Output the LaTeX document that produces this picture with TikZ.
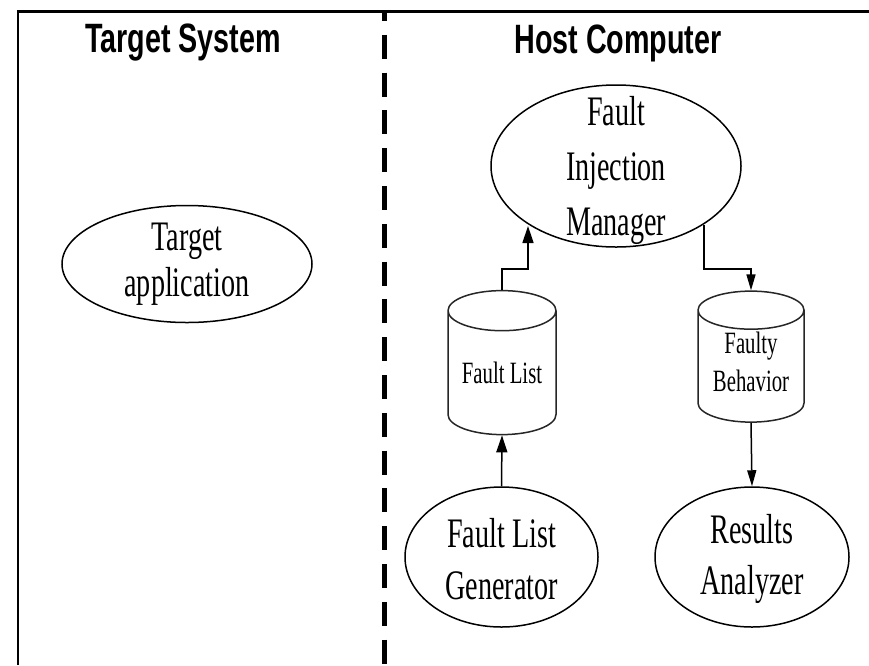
\documentclass[tikz,border=0pt]{standalone}
\usepackage{fontspec}
\usetikzlibrary{arrows.meta,shapes.geometric}
\newfontfamily\diagfont[FakeStretch=0.67]{Liberation Serif}
\newfontfamily\headfont[FakeStretch=0.7,BoldFont={Liberation Sans Bold}]{Liberation Sans}
\newcommand{\lift}[1]{\rule{0pt}{#1pt}}
\tikzset{
  proc/.style={draw=black,line width=1.5pt,ellipse,inner sep=-50pt,align=center,
    font=\diagfont\fontsize{42}{51.5}\selectfont},
  store/.style={draw=black!85,line width=1.5pt,cylinder,shape border rotate=90,inner sep=0pt,
    align=center,aspect=0.5,font=\diagfont\fontsize{31}{38}\selectfont},
  head/.style={font=\headfont\bfseries\fontsize{41}{41}\selectfont,inner sep=0pt},
  flow/.style={draw=black,line width=1.5pt,-{Triangle[length=17pt,width=11pt]}},
  thinflow/.style={draw=black,line width=1.5pt,-{Triangle[length=16pt,width=9pt]}}
}
\begin{document}
\begin{tikzpicture}[x=1pt,y=-1pt]
\useasboundingbox (0,0) rectangle (869,665);
\fill[white] (0,0) rectangle (869,665);
\draw[line width=3pt] (869,11) -- (18,11);
\draw[line width=2pt] (18,10) -- (18,665);
\draw[line width=5pt,dash pattern=on 24pt off 13.8pt,dash phase=14pt] (384,11) -- (384,665);
\node[head] (ts) at (183,43) {Target System};
\node[head] (hc) at (618,43) {Host Computer};
\node[proc,minimum width=250pt,minimum height=117pt] (ta) at (187,264) {\lift{26}Target\\[-6pt]application};
\node[proc,minimum width=250pt,minimum height=162pt] (fim) at (616,166) {\lift{39}Fault\\[3.5pt]Injection\\[3.5pt]Manager};
\node[store,minimum width=108pt,minimum height=144pt] (fl) at (502,373) {Fault List};
\node[store,minimum width=106pt,minimum height=131pt] (fb) at (751,366.5) {Faulty\\Behavior\rule[-9pt]{0pt}{1pt}};
\node[proc,minimum width=193pt,minimum height=140pt] (flg) at (501.5,557) {\lift{33}Fault List\\Generator};
\node[proc,minimum width=194pt,minimum height=140pt] (ra) at (752,557) {\lift{33}Results\\Analyzer};
\coordinate (fimin) at (528,226);
\coordinate (fimout) at (704,225);
\draw[flow] (fl.north) -- ++(0,-21) -| (fimin);
\draw[thinflow] (fimout) -- ++(0,44) -| (fb.north);
\draw[flow] (flg.north) -- (fl.south);
\draw[thinflow] (fb.south) -- (ra.north);
\end{tikzpicture}
\end{document}
